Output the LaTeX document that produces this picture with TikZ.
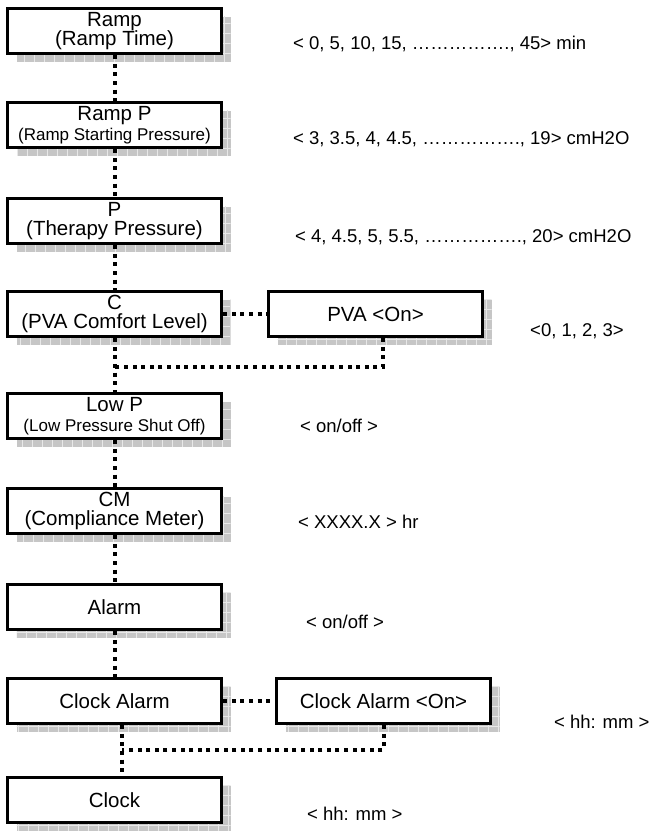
\documentclass[tikz,border=0pt]{standalone}
\usepackage{fontspec}
\setmainfont{Liberation Sans}
\usetikzlibrary{shadows}
\newcommand\boxfont{\fontsize{20.5}{19.5}\selectfont}
\newcommand\subfont{\fontsize{17}{19}\selectfont}
\newcommand\valfont{\fontsize{18.5}{20}\selectfont}
\tikzset{
  mbox/.style={draw=black, line width=3.5pt, fill=white, minimum width=214pt, minimum height=45pt,
    inner sep=0pt, align=center, font=\boxfont,
    general shadow={fill=gray!45, draw=none, shadow xshift=9pt, shadow yshift=-8pt,
      path picture={\draw[gray!18, line width=0.7pt, step=10pt]
        ([shift={(-10pt,-10pt)}]path picture bounding box.south west) grid
        ([shift={(10pt,10pt)}]path picture bounding box.north east);}}},
  dotline/.style={line width=4pt, dash pattern=on 4pt off 4.6pt},
  val/.style={anchor=west, inner sep=0pt, font=\valfont},
}
\begin{document}
\begin{tikzpicture}[x=1pt,y=-1pt]
\useasboundingbox (0,0) rectangle (653,831);
% boxes
\node[mbox] (ramp) at (114.5,31) {Ramp\\(Ramp Time)};
\node[mbox] (rampp) at (114.5,125) {Ramp P\\{\subfont(Ramp Starting Pressure)}};
\node[mbox] (p) at (114.5,221) {P\\(Therapy Pressure)};
\node[mbox] (c) at (114.5,314) {C\\(PVA Comfort Level)};
\node[mbox] (pva) at (375.5,314) {PVA <On>};
\node[mbox] (lowp) at (114.5,416) {Low P\\{\subfont(Low Pressure Shut Off)}};
\node[mbox] (cm) at (114.5,511) {CM\\(Compliance Meter)};
\node[mbox] (alarm) at (114.5,607) {Alarm};
\node[mbox] (ca) at (114.5,701) {Clock Alarm};
\node[mbox] (caon) at (383.5,701) {Clock Alarm <On>};
\node[mbox] (clock) at (114.5,800) {Clock};
% junction points
\coordinate (j1) at (114.5,367);
\coordinate (k1) at (383,367);
\coordinate (j2) at (122,750);
\coordinate (k2) at (383.5,750);
% connectors
\draw[dotline] (ramp) -- (rampp);
\draw[dotline] (rampp) -- (p);
\draw[dotline] (p) -- (c);
\draw[dotline] (c) -- (pva);
\draw[dotline] (c) -- (lowp);
\draw[dotline] (pva.south -| k1) -- (k1) -- (j1);
\draw[dotline] (lowp) -- (cm);
\draw[dotline] (cm) -- (alarm);
\draw[dotline] (alarm) -- (ca);
\draw[dotline] (ca) -- (caon);
\draw[dotline] (ca.south -| j2) -- (clock.north -| j2);
\draw[dotline] (caon.south -| k2) -- (k2) -- (j2);
% values
\node[val] (v1) at (293,44) {< 0, 5, 10, 15, ……………., 45> min};
\node[val] (v2) at (293,139) {< 3, 3.5, 4, 4.5, ……………., 19> cmH2O};
\node[val] (v3) at (295,237) {< 4, 4.5, 5, 5.5, ……………., 20> cmH2O};
\node[val] (v4) at (530,331) {<0, 1, 2, 3>};
\node[val] (v5) at (300,426) {< on/off >};
\node[val] (v6) at (298,522) {< XXXX.X > hr};
\node[val] (v7) at (306,622) {< on/off >};
\node[val] (v8) at (554,722) {< hh: mm >};
\node[val] (v9) at (307,814) {< hh: mm >};
\end{tikzpicture}
\end{document}
